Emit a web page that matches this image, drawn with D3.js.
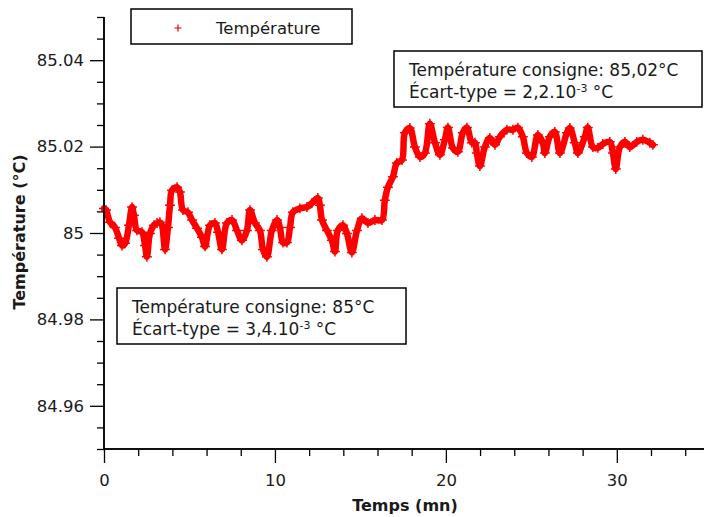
<!DOCTYPE html>
<meta charset="utf-8">
<script src="https://d3js.org/d3.v7.min.js"></script>
<style>
  body { margin: 0; background: #fff; }
  text { font-family: "DejaVu Sans", sans-serif; fill: #1a1a1a; }
</style>
<div id="chart"></div>
<script>
// temps (mn) et température (°C)
var temps = [0, 0.12, 0.35, 0.64, 0.88, 1.05, 1.23, 1.46, 1.64, 1.75, 1.93, 2.22, 2.40, 2.51, 2.69, 2.92, 3.10, 3.27, 3.39, 3.57,
  3.74, 3.86, 3.98, 4.27, 4.44, 4.62, 4.91, 5.15, 5.44, 5.73, 5.91, 6.20, 6.49, 6.67, 6.90, 7.19, 7.49, 7.78, 8.07, 8.36,
  8.54, 8.83, 9.12, 9.30, 9.53, 9.82, 10.12, 10.29, 10.47, 10.70, 10.88, 11.05, 11.46, 11.87, 12.16, 12.51, 12.63, 12.75, 13.04, 13.33,
  13.51, 13.68, 13.98, 14.21, 14.50, 14.80, 15.09, 15.44, 15.85, 16.26, 16.43, 16.61, 16.90, 17.13, 17.43, 17.60, 17.89, 18.19, 18.48, 18.77,
  19.06, 19.36, 19.65, 19.94, 20.12, 20.41, 20.70, 20.99, 21.23, 21.52, 21.70, 21.81, 21.99, 22.28, 22.57, 22.87, 23.16, 23.57, 23.92, 24.21,
  24.50, 24.74, 25.03, 25.38, 25.67, 25.79, 26.08, 26.37, 26.67, 27.08, 27.25, 27.54, 27.72, 28.13, 28.30, 28.60, 28.89, 29.18, 29.59, 29.77,
  29.94, 30.18, 30.47, 30.76, 31.17, 31.52, 31.93, 32.11];
var temperature = [85.0057, 85.0053, 85.0025, 85.0013, 84.9988, 84.9971, 84.9976, 85.0018, 85.0060, 85.0041, 85.0006, 85.0002, 84.9971, 84.9945, 84.9999, 85.0018, 85.0023, 85.0025, 85.0018, 84.9962,
  85.0013, 85.0064, 85.0099, 85.0106, 85.0095, 85.0053, 85.0048, 85.0030, 85.0011, 84.9990, 84.9969, 85.0018, 85.0023, 85.0002, 84.9962, 85.0023, 85.0030, 85.0006, 84.9983, 85.0006,
  85.0053, 85.0023, 85.0006, 84.9962, 84.9945, 85.0006, 85.0030, 85.0013, 84.9978, 84.9978, 85.0013, 85.0048, 85.0057, 85.0060, 85.0069, 85.0081, 85.0064, 85.0030, 85.0006, 84.9983,
  84.9957, 85.0006, 85.0018, 84.9999, 84.9955, 85.0006, 85.0034, 85.0023, 85.0030, 85.0030, 85.0076, 85.0106, 85.0130, 85.0162, 85.0169, 85.0232, 85.0243, 85.0199, 85.0176, 85.0185,
  85.0253, 85.0209, 85.0181, 85.0216, 85.0244, 85.0197, 85.0188, 85.0232, 85.0244, 85.0209, 85.0209, 85.0185, 85.0155, 85.0199, 85.0220, 85.0204, 85.0223, 85.0239, 85.0239, 85.0244,
  85.0223, 85.0185, 85.0176, 85.0227, 85.0209, 85.0185, 85.0223, 85.0234, 85.0185, 85.0232, 85.0243, 85.0209, 85.0185, 85.0223, 85.0244, 85.0199, 85.0197, 85.0206, 85.0211, 85.0185,
  85.0148, 85.0199, 85.0211, 85.0199, 85.0211, 85.0216, 85.0209, 85.0204];

var xMajor = [0, 10, 20, 30];
var xMinor = [2, 4, 6, 8, 12, 14, 16, 18, 22, 24, 26, 28, 32, 34];
var yMajor = [84.96, 84.98, 85, 85.02, 85.04];
var yMinor = [84.95, 84.955, 84.965, 84.97, 84.975, 84.985, 84.99, 84.995, 85.005, 85.01, 85.015, 85.025, 85.03, 85.035, 85.045, 85.05];

var W = 704, H = 517;
var svg = d3.select("#chart").append("svg").attr("width", W).attr("height", H);
svg.append("rect").attr("width", W).attr("height", H).attr("fill", "#fff");

var x = d3.scaleLinear().domain([0, 35.1]).range([104, 704]);
var y = d3.scaleLinear().domain([84.95, 85.05]).range([449, 17]);

var data = temps.map(function(t, i) { return { t: t, v: temperature[i] }; });

// courbe
var line = d3.line()
  .x(function(d) { return x(d.t); })
  .y(function(d) { return y(d.v); })
  .curve(d3.curveCatmullRom);
svg.append("path").datum(data)
  .attr("d", line)
  .attr("fill", "none")
  .attr("stroke", "#ff0000")
  .attr("stroke-width", 6.5)
  .attr("stroke-linejoin", "round")
  .attr("stroke-linecap", "round");

var plus = d3.symbol(d3.symbolPlus, 34);
svg.selectAll(".pt").data(data).enter().append("path")
  .attr("class", "pt")
  .attr("d", plus)
  .attr("transform", function(d) { return "translate(" + x(d.t) + "," + y(d.v) + ")"; })
  .attr("fill", "none")
  .attr("stroke", "#ff0000")
  .attr("stroke-width", 1.5);

// axes
var xAxis = svg.append("g").attr("transform", "translate(0," + y.range()[0] + ")");
xAxis.call(d3.axisBottom(x).tickValues(xMajor).tickSize(14).tickPadding(11).tickFormat(d3.format("d")));
xAxis.append("g").call(d3.axisBottom(x).tickValues(xMinor).tickSize(7).tickFormat(""));
var yAxis = svg.append("g").attr("transform", "translate(" + x.range()[0] + ",0)");
yAxis.call(d3.axisLeft(y).tickValues(yMajor).tickSize(14).tickPadding(6).tickFormat(function(d) { return d3.format("")(+d.toFixed(2)); }));
yAxis.append("g").call(d3.axisLeft(y).tickValues(yMinor).tickSize(7).tickFormat(""));

svg.selectAll(".domain").attr("stroke", "#000").attr("stroke-width", 1.5);
svg.selectAll(".tick line").attr("stroke", "#000").attr("stroke-width", 1.3);
svg.selectAll(".tick text").style("font-family", "DejaVu Sans").style("font-size", "16.5px").attr("fill", "#1a1a1a");
yAxis.selectAll(".domain").attr("d", "M0," + y.range()[0] + "V" + y.range()[1]);
xAxis.selectAll(".domain").attr("d", "M" + x.range()[0] + ",0H" + x.range()[1]);

// titres des axes
svg.append("text").attr("x", 405).attr("y", 511).attr("text-anchor", "middle")
  .style("font-size", "16px").style("font-weight", "bold").text("Temps (mn)");
svg.append("text").attr("transform", "translate(25,232) rotate(-90)").attr("text-anchor", "middle")
  .style("font-size", "16px").style("font-weight", "bold").text("Température (°C)");

// légende
svg.append("rect").attr("x", 131).attr("y", 9).attr("width", 221).attr("height", 35)
  .attr("fill", "#fff").attr("stroke", "#000").attr("stroke-width", 1.5);
svg.append("path").attr("d", d3.symbol(d3.symbolPlus, 18)).attr("transform", "translate(178,28)")
  .attr("fill", "none").attr("stroke", "#e00000").attr("stroke-width", 1.2);
svg.append("text").attr("x", 216).attr("y", 34).style("font-size", "16.5px").text("Température");

// annotations
function note(bx, by, bw, bh, l1, ecart) {
  svg.append("rect").attr("x", bx).attr("y", by).attr("width", bw).attr("height", bh)
    .attr("fill", "#fff").attr("stroke", "#000").attr("stroke-width", 1.5);
  svg.append("text").attr("x", bx + 15).attr("y", by + 25).style("font-size", "17px").text(l1);
  var t = svg.append("text").attr("x", bx + 15).attr("y", by + 47).style("font-size", "17px");
  t.append("tspan").text("Écart-type = " + ecart + ".10");
  t.append("tspan").attr("dy", -6).style("font-size", "11px").text("-3");
  t.append("tspan").attr("dy", 6).text(" °C");
}
note(394, 51, 308, 56, "Température consigne: 85,02°C", "2,2");
note(117, 288, 289, 56, "Température consigne: 85°C", "3,4");
</script>
